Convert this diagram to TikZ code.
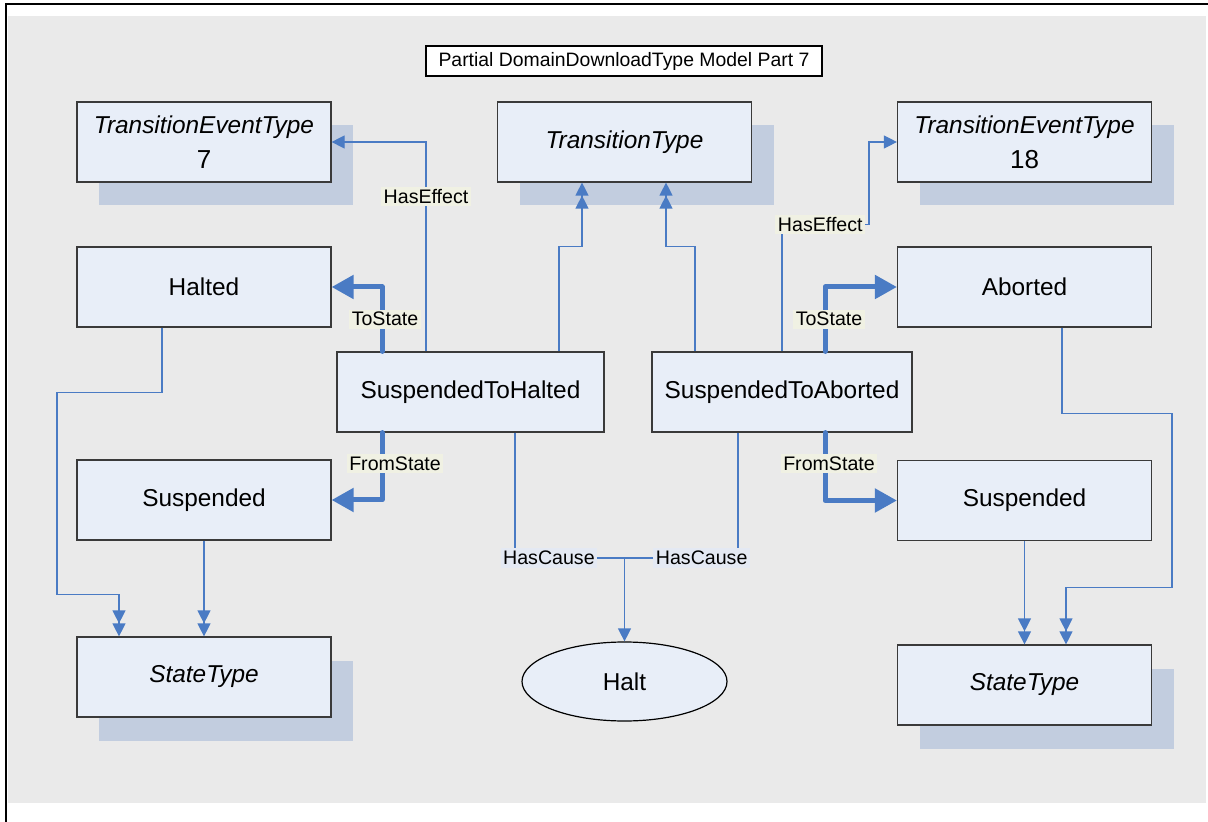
\documentclass[tikz,border=0pt]{standalone}
\usepackage{fontspec}
\setmainfont{Liberation Sans}
\usetikzlibrary{arrows.meta, shapes.geometric, shadows}

\definecolor{bggray}{HTML}{EAEAEA}
\definecolor{boxfill}{HTML}{E8EEF8}
\definecolor{boxline}{HTML}{3A3A3A}
\definecolor{shadowblue}{HTML}{C2CDDF}
\definecolor{linkblue}{HTML}{4A7BC4}
\definecolor{tagcream}{HTML}{F0F1E3}
\definecolor{tagblue}{HTML}{E4E9F3}

\tikzset{
  box/.style={draw=boxline, line width=0.6pt, fill=boxfill, minimum width=127pt,
    minimum height=40pt, inner sep=0pt, font=\fontsize{12.2}{14}\selectfont},
  typebox/.style={box, drop shadow={shadow xshift=11pt, shadow yshift=-11.75pt,
    fill=shadowblue, opacity=1}},
  link/.style={linkblue, line width=0.6pt},
  rolelink/.style={linkblue, line width=2.5pt, line cap=round, line join=round,
    -{Triangle[length=11pt, width=11.5pt]}},
  role/.style={fill=tagcream, text=black, inner sep=1.3pt, font=\fontsize{9.8}{11}\selectfont},
}

\begin{document}
\begin{tikzpicture}[x=0.5pt, y=-0.5pt, >={Triangle[length=6.5pt, width=6.5pt]}]
  \useasboundingbox (0,0) rectangle (1208,822);
  \fill[bggray] (8,16) rectangle (1206,803);
  \draw[line width=1pt] (6,822) -- (6,4) -- (1208,4);

  \node[draw, line width=0.6pt, fill=white, minimum width=198pt, minimum height=15pt,
    inner sep=0pt, font=\fontsize{9.7}{11}\selectfont] (title) at (624,61)
    {Partial DomainDownloadType Model Part 7};

  % types
  \node[typebox, align=center, font=\fontsize{12.2}{17.5}\selectfont] (tet7) at (204,142)
    {\textit{TransitionEventType}\\{\fontsize{13}{17.5}\selectfont 7}};
  \node[typebox, font=\fontsize{12.2}{14}\selectfont\itshape] (tt) at (624.5,142) {TransitionType};
  \node[typebox, align=center, font=\fontsize{12.2}{17.5}\selectfont] (tet18) at (1024.5,142)
    {\textit{TransitionEventType}\\{\fontsize{13}{17.5}\selectfont 18}};
  \node[typebox, font=\fontsize{12.2}{14}\selectfont\itshape] (st1) at (204,677) {StateType};
  \node[typebox, font=\fontsize{12.2}{14}\selectfont\itshape] (st2) at (1024.5,685) {StateType};

  % states and transitions
  \node[box] (halted) at (204,287) {Halted};
  \node[box] (aborted) at (1024.5,287) {Aborted};
  \node[box, minimum width=133.5pt] (s2h) at (470.5,392) {SuspendedToHalted};
  \node[box, minimum width=130pt] (s2a) at (782,392) {SuspendedToAborted};
  \node[box] (susp1) at (204,500) {Suspended};
  \node[box] (susp2) at (1024.5,500.5) {Suspended};
  \node[ellipse, draw=black, line width=0.6pt, fill=boxfill, minimum width=102.5pt,
    minimum height=39.5pt, inner sep=0pt, font=\fontsize{12.2}{14}\selectfont]
    (halt) at (624.5,681.5) {Halt};

  \draw[link, ->] ([xshift=-22.25pt]s2h.north) |- node[role, pos=.37] {HasEffect} (tet7);
  \draw[link, ->>] ([xshift=44.25pt]s2h.north) -- ++(0,-105) -| ([xshift=-21.25pt]tt.south);
  \draw[link, ->>] ([xshift=-43.5pt]s2a.north) -- ++(0,-105) -| ([xshift=20.75pt]tt.south);
  \draw[link, ->] (s2a.north) -- ++(0,-127) -- node[role, pos=.44] {HasEffect} ++(87,0) |- (tet18);

  \draw[rolelink] ([xshift=-44.25pt]s2h.north) |- node[role, pos=.25, xshift=1.5pt] {ToState} (halted);
  \draw[rolelink] ([xshift=-44.25pt]s2h.south) |- node[role, pos=.23, xshift=6.5pt] {FromState} (susp1);
  \draw[rolelink] ([xshift=21.5pt]s2a.north) |- node[role, pos=.25, xshift=2pt] {ToState} (aborted);
  \draw[rolelink] ([xshift=21.5pt]s2a.south) |- node[role, pos=.23, xshift=2pt] {FromState} (susp2);

  \coordinate (join) at (624.5,558);
  \draw[link] ([xshift=22.25pt]s2h.south) |- node[role, fill=tagblue, pos=.655] {HasCause} (join);
  \draw[link] ([xshift=-22pt]s2a.south) |- node[role, fill=tagblue, pos=.66] {HasCause} (join);
  \draw[link, ->] (join) -- (halt);

  \draw[link, ->>] ([xshift=-21pt]halted.south) |- ++(-105,65) -- ++(0,202) -| ([xshift=-42.5pt]st1.north);
  \draw[link, ->>] (susp1) -- (st1);
  \draw[link, ->>] ([xshift=18.75pt]aborted.south) |- ++(110,86) -- ++(0,174) -| ([xshift=20.75pt]st2.north);
  \draw[link, ->>] (susp2) -- (st2);
\end{tikzpicture}
\end{document}
